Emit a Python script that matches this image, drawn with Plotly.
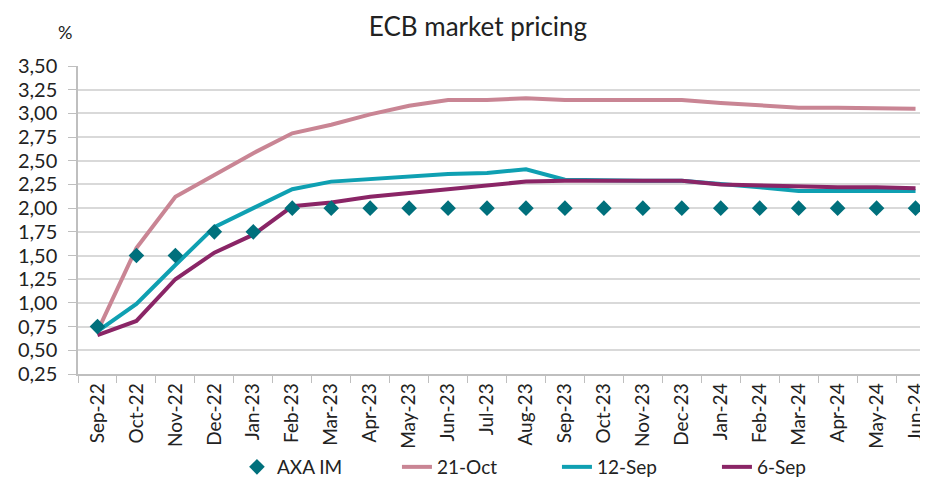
import plotly.graph_objects as go

months = ["Sep-22", "Oct-22", "Nov-22", "Dec-22", "Jan-23", "Feb-23", "Mar-23", "Apr-23",
          "May-23", "Jun-23", "Jul-23", "Aug-23", "Sep-23", "Oct-23", "Nov-23", "Dec-23",
          "Jan-24", "Feb-24", "Mar-24", "Apr-24", "May-24", "Jun-24"]

axa_im = [0.75, 1.50, 1.50, 1.75, 1.75, 2.00, 2.00, 2.00, 2.00, 2.00, 2.00, 2.00,
          2.00, 2.00, 2.00, 2.00, 2.00, 2.00, 2.00, 2.00, 2.00, 2.00]
oct21 = [0.70, 1.58, 2.12, 2.35, 2.58, 2.79, 2.88, 2.99, 3.08, 3.14, 3.14, 3.16,
         3.14, 3.14, 3.14, 3.14, 3.11, 3.08, 3.06, 3.06, 3.05, 3.05]
sep12 = [0.70, 0.99, 1.40, 1.80, 2.00, 2.20, 2.28, 2.31, 2.33, 2.36, 2.37, 2.41,
         2.30, 2.29, 2.29, 2.29, 2.26, 2.22, 2.18, 2.18, 2.18, 2.18]
sep6 = [0.66, 0.81, 1.25, 1.53, 1.72, 2.02, 2.06, 2.12, 2.16, 2.20, 2.25, 2.28,
        2.29, 2.29, 2.29, 2.29, 2.25, 2.24, 2.22, 2.22, 2.22, 2.21]

FONT = "Lato, 'Open Sans', sans-serif"

# page body has an 8px margin, so the figure is drawn 8px in from the top-left
W, H = 920, 469

fig = go.Figure()
fig.add_trace(go.Scatter(x=months, y=oct21, name="21-Oct", mode="lines",
                         line=dict(color="#C98594", width=4), legendrank=2))
fig.add_trace(go.Scatter(x=months, y=sep12, name="12-Sep", mode="lines",
                         line=dict(color="#0FA0B2", width=4), legendrank=3))
fig.add_trace(go.Scatter(x=months, y=sep6, name="6-Sep", mode="lines",
                         line=dict(color="#8A2566", width=4), legendrank=4))
fig.add_trace(go.Scatter(x=months, y=axa_im, name="AXA IM", mode="markers",
                         marker=dict(symbol="diamond", color="#00707C", size=12),
                         legendrank=1))

fig.update_layout(
    width=W, height=H,
    margin=dict(l=70, r=0, t=58, b=103, autoexpand=False),
    paper_bgcolor="white", plot_bgcolor="white",
    separators=",.",
    font=dict(family=FONT, color="#222222", size=18),
    title=dict(text="ECB market pricing", xref="container", x=470 / W, xanchor="center",
               y=1 - 19 / H, yanchor="middle", font=dict(size=26, color="#222222")),
    showlegend=True,
    legend=dict(orientation="h", x=0.187, xanchor="left", y=-0.302, yanchor="middle",
                font=dict(size=19), entrywidth=115, entrywidthmode="pixels",
                traceorder="normal", bgcolor="rgba(0,0,0,0)"),
    annotations=[dict(text="%", xref="paper", yref="paper", x=-0.015, y=1.11,
                      showarrow=False, font=dict(size=18), xanchor="center", yanchor="middle")],
)

fig.update_xaxes(type="category", range=[-0.5, 21.32], tickangle=-90, automargin=False,
                 showgrid=False, showline=True, linecolor="#BFBFBF", linewidth=1.5,
                 ticks="outside", ticklen=7, tickcolor="#BFBFBF", tickson="boundaries",
                 tickfont=dict(size=19), zeroline=False)
fig.update_yaxes(range=[0.25, 3.5], tickvals=[0.25 * i for i in range(1, 15)], automargin=False,
                 tickformat=".2f", showgrid=True, gridcolor="#D9D9D9", gridwidth=1.5,
                 showline=True, linecolor="#BFBFBF", linewidth=1.5,
                 ticks="outside", ticklen=8, tickcolor="#BFBFBF", ticklabelstandoff=7,
                 tickfont=dict(size=20), zeroline=False)

fig.write_html("out.html")
